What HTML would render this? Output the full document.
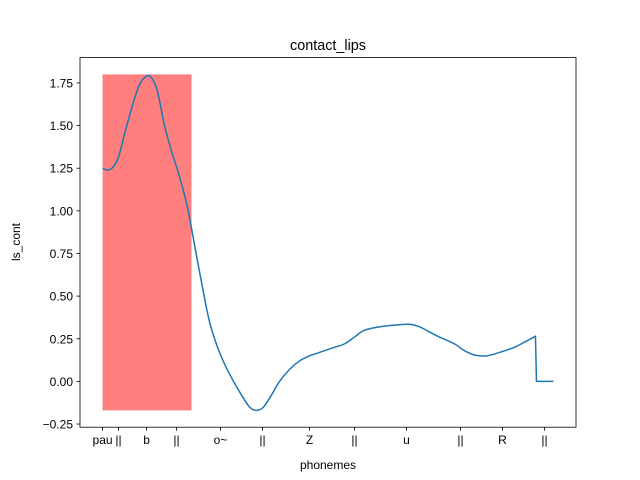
<!DOCTYPE html>
<html><head><meta charset="utf-8"><style>
html,body{margin:0;padding:0;background:#fff;}
svg{display:block;font-family:"Liberation Sans","DejaVu Sans",sans-serif;}
</style></head><body>
<svg id="chart" width="640" height="480"></svg>
<script>
// data (x in time frames)
const curveX = [0,7,15,22,30,37,44,49,55,62,69,77,85,92,100,107,115,123,131,139,147,154,161,169,177,187,197,207,217,232,242,252,262,277,292,307,317,327,337,352,362,372,384,397,412,422,433,434,451];
const curveY = [1.25,1.24,1.3,1.45,1.62,1.74,1.79,1.78,1.7,1.5,1.35,1.2,1.02,0.8,0.55,0.35,0.2,0.09,0.0,-0.08,-0.15,-0.17,-0.15,-0.08,0.0,0.07,0.12,0.15,0.17,0.2,0.22,0.26,0.3,0.32,0.33,0.335,0.32,0.29,0.26,0.22,0.18,0.155,0.15,0.17,0.2,0.23,0.265,0.0,0.0];
const spanX = [0,89];
const spanY = [-0.17,1.8];
const xTickPos = [0,16,44,74,118,160,207,252,304,358,400,442];
const xTickLabels = ["pau","||","b","||","o~","||","Z","||","u","||","R","||"];
const yTicks = [-0.25,0,0.25,0.5,0.75,1.0,1.25,1.5,1.75];
const yTickLabels = ["\u22120.25","0.00","0.25","0.50","0.75","1.00","1.25","1.50","1.75"];

const L=80,R=576,T=57.6,B=427.2;
const NS="http://www.w3.org/2000/svg";
const svg=document.getElementById('chart');
const xmin=-22.55,xmax=473.55,ymin=-0.2685,ymax=1.8985;
const sx=v=>L+(v-xmin)/(xmax-xmin)*(R-L);
const sy=v=>B-(v-ymin)/(ymax-ymin)*(B-T);
function mk(tag,attrs,parent){const e=document.createElementNS(NS,tag);for(const k in attrs)e.setAttribute(k,attrs[k]);(parent||svg).appendChild(e);return e;}

const span=mk('rect',{x:sx(spanX[0]),y:sy(spanY[1]),width:sx(spanX[1])-sx(spanX[0]),height:sy(spanY[0])-sy(spanY[1]),fill:'#ff7f7f'});



// smooth (Catmull-Rom) until the drop, then straight
const P=curveX.map((x,i)=>[sx(x),sy(curveY[i])]);
const smoothEnd=P.length-3;
let d='M'+P[0][0].toFixed(2)+' '+P[0][1].toFixed(2);
for(let i=0;i<P.length-1;i++){
  if(i<smoothEnd){
    const p0=P[Math.max(0,i-1)],p1=P[i],p2=P[i+1],p3=P[Math.min(smoothEnd,i+2)];
    const c1=[p1[0]+(p2[0]-p0[0])/6,p1[1]+(p2[1]-p0[1])/6];
    const c2=[p2[0]-(p3[0]-p1[0])/6,p2[1]-(p3[1]-p1[1])/6];
    d+='C'+c1[0].toFixed(2)+' '+c1[1].toFixed(2)+' '+c2[0].toFixed(2)+' '+c2[1].toFixed(2)+' '+p2[0].toFixed(2)+' '+p2[1].toFixed(2);
  } else {
    d+='L'+P[i+1][0].toFixed(2)+' '+P[i+1][1].toFixed(2);
  }
}
const line=mk('path',{d:d,fill:'none',stroke:'#1f77b4','stroke-width':1.5,'stroke-linejoin':'round'});



const frame=mk('rect',{x:L,y:T,width:R-L,height:B-T,fill:'none',stroke:'#000','stroke-width':0.8});



xTickPos.forEach((p,i)=>{
  const x=sx(p);
  mk('line',{x1:x,x2:x,y1:B,y2:B+3.5,stroke:'#000','stroke-width':0.8});
  const t=mk('text',{x:x,y:B+17,'text-anchor':'middle','font-size':12,fill:'#000'});
  t.textContent=xTickLabels[i];
  
  
});
yTicks.forEach((v,i)=>{
  const y=sy(v);
  mk('line',{x1:L-3.5,x2:L,y1:y,y2:y,stroke:'#000','stroke-width':0.8});
  const t=mk('text',{x:L-7,y:y+4.5,'text-anchor':'end','font-size':12,fill:'#000'});
  t.textContent=yTickLabels[i];
  
  
});
const title=mk('text',{x:(L+R)/2,y:50,'text-anchor':'middle','font-size':14.4,fill:'#000'});
title.textContent='contact_lips';


const xl=mk('text',{x:(L+R)/2,y:469,'text-anchor':'middle','font-size':12,fill:'#000'});
xl.textContent='phonemes';


const yl=mk('text',{x:0,y:0,'text-anchor':'middle','font-size':12,fill:'#000',transform:'translate(20,242) rotate(-90)'});
yl.textContent='ls_cont';


</script>
</body></html>
